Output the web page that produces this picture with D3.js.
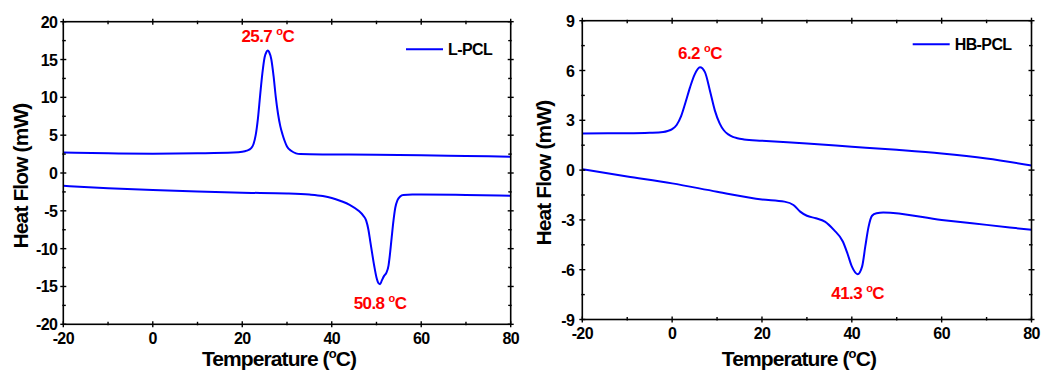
<!DOCTYPE html>
<html><head><meta charset="utf-8">
<script src="https://cdn.jsdelivr.net/npm/d3@7"></script>
<style>
body{margin:0;background:#fff;}
svg{display:block;font-family:"Liberation Sans",Arial,sans-serif;font-weight:bold;}
</style></head>
<body><svg id="c" width="1041" height="372"></svg>
<script>
// ---- Data: L-PCL (left panel) ----
const lpclCoolT = [-20,-10,0,10,18,20,21,22,22.5,23,23.5,24,24.5,25,25.4,25.7,26,26.5,27,27.5,28,28.5,29,29.5,30,31,32,33,40,50,60,70,80];
const lpclCoolHF = [2.7,2.6,2.55,2.6,2.7,2.8,2.95,3.3,3.8,5.0,7.2,10.3,13.2,15.3,16.0,16.2,16.0,15.0,12.8,10.0,7.8,6.2,5.1,4.2,3.5,2.9,2.6,2.5,2.45,2.4,2.35,2.25,2.15];
const lpclHeatT = [-20,-10,0,10,20,30,35,38,40,42,44,46,47,47.7,48.2,48.6,49,49.5,50,50.5,50.8,51.2,51.7,52.2,52.7,53,53.4,53.8,54.2,54.7,55.3,56,58,60,70,80];
const lpclHeatHF = [-1.7,-2.0,-2.25,-2.45,-2.6,-2.7,-2.85,-3.05,-3.3,-3.7,-4.2,-5.0,-5.6,-6.3,-7.5,-9.0,-10.5,-12.3,-13.8,-14.6,-14.7,-14.2,-13.6,-13.2,-12.2,-10.8,-8.5,-6.3,-4.6,-3.6,-3.1,-2.9,-2.85,-2.85,-2.9,-3.0];
// ---- Data: HB-PCL (right panel) ----
const hbCoolT = [-20,-10,-5,-2,-1,0,1,2,3,4,5,6.2,7.3,8.4,9.5,10.6,11.5,12.5,13.5,14.5,16,20,30,40,50,60,70,80];
const hbCoolHF = [2.21,2.22,2.25,2.3,2.36,2.47,2.72,3.25,4.1,5.0,5.75,6.19,5.9,4.8,3.6,2.8,2.4,2.15,2.0,1.92,1.85,1.77,1.6,1.41,1.22,1.0,0.7,0.28];
const hbHeatT = [-20,-10,0,10,20,25,27,28.5,30,32,34,36,38,39,40,41.3,42.3,43,43.7,44.5,45.5,47,60,70,80];
const hbHeatHF = [0.05,-0.38,-0.8,-1.3,-1.77,-1.9,-2.1,-2.5,-2.75,-2.9,-3.1,-3.6,-4.3,-5.0,-5.8,-6.27,-5.8,-4.6,-3.45,-2.75,-2.6,-2.55,-3.0,-3.3,-3.6];
// ---- Ticks and labels ----
const xTicks = [-20,0,20,40,60,80];
const xMinor = [-10,10,30,50,70];
const lpclYTicks = [-20,-15,-10,-5,0,5,10,15,20];
const lpclYMinor = [-17.5,-12.5,-7.5,-2.5,2.5,7.5,12.5,17.5];
const hbYTicks = [-9,-6,-3,0,3,6,9];
const hbYMinor = [-7.5,-4.5,-1.5,1.5,4.5,7.5];
const lpclLabels = [{t:25.7,hf:16.2,txt:"25.7",pos:"top"},{t:50.8,hf:-14.7,txt:"50.8",pos:"bottom"}];
const hbLabels = [{t:6.2,hf:6.19,txt:"6.2",pos:"top"},{t:41.3,hf:-6.27,txt:"41.3",pos:"bottom"}];

const svg = d3.select("#c");
const zip = (a,b)=>a.map((v,i)=>[v,b[i]]);

function panel(o){
  const g = svg.append("g");
  const x = d3.scaleLinear().domain([-20,80]).range([o.x0,o.x1]);
  const y = d3.scaleLinear().domain(o.yDom).range([o.y1,o.y0]);
  const line = d3.line().x(d=>x(d[0])).y(d=>y(d[1])).curve(d3.curveMonotoneX);
  o.series.forEach(s=>{
    g.append("path").attr("d",line(s)).attr("fill","none").attr("stroke","#0000ff").attr("stroke-width",2);
  });
  // frame
  g.append("rect").attr("x",o.x0).attr("y",o.y0).attr("width",o.x1-o.x0).attr("height",o.y1-o.y0)
    .attr("fill","none").attr("stroke","#000").attr("stroke-width",1.6);
  const tk = (x1,y1,x2,y2)=>g.append("line").attr("x1",x1).attr("y1",y1).attr("x2",x2).attr("y2",y2).attr("stroke","#000").attr("stroke-width",1.4);
  xTicks.forEach(t=>{tk(x(t),o.y1-3,x(t),o.y1+3);tk(x(t),o.y0-3,x(t),o.y0+3);});
  xMinor.forEach(t=>{tk(x(t),o.y1-2.5,x(t),o.y1+1);tk(x(t),o.y0-1,x(t),o.y0+2.5);});
  o.yTicks.forEach(t=>{tk(o.x0-3,y(t),o.x0+3,y(t));tk(o.x1-3,y(t),o.x1+3,y(t));});
  o.yMinor.forEach(t=>{tk(o.x0-1,y(t),o.x0+2.5,y(t));tk(o.x1-2.5,y(t),o.x1+1,y(t));});
  // tick labels
  const lab = g.append("g").attr("font-size",16).attr("fill","#000").attr("letter-spacing",-0.6);
  xTicks.forEach(t=>lab.append("text").attr("x",x(t)).attr("y",o.y1+19.5).attr("text-anchor","middle").text(t));
  o.yTicks.forEach(t=>lab.append("text").attr("x",o.x0-o.yLabGap).attr("y",y(t)+6).attr("text-anchor","end").text(t));
  // axis titles
  const xt = g.append("text").attr("x",(o.x0+o.x1)/2-8).attr("y",366).attr("text-anchor","middle")
    .attr("font-size",21).attr("letter-spacing",-0.9);
  xt.append("tspan").text("Temperature (");
  xt.append("tspan").attr("font-size",13).attr("dy",-8).text("o");
  xt.append("tspan").attr("dy",8).text("C)");
  g.append("text").attr("transform",`translate(${o.yTitleX},${(o.y0+o.y1)/2+3}) rotate(-90)`)
    .attr("text-anchor","middle").attr("font-size",21).attr("letter-spacing",-0.9).text("Heat Flow (mW)");
  // peak annotations
  o.labels.forEach(l=>{
    const ty = l.pos==="top" ? y(l.hf)-8 : y(l.hf)+25;
    const t = g.append("text").attr("x",x(l.t)).attr("y",ty).attr("text-anchor","middle")
      .attr("font-size",17).attr("fill","#ff0000").attr("letter-spacing",-0.6);
    t.append("tspan").text(l.txt+" ");
    t.append("tspan").attr("font-size",11).attr("dy",-7).text("o");
    t.append("tspan").attr("dy",7).text("C");
  });
  // legend
  g.append("line").attr("x1",o.legX).attr("x2",o.legX+37).attr("y1",o.legY).attr("y2",o.legY)
    .attr("stroke","#0000ff").attr("stroke-width",2);
  g.append("text").attr("x",o.legX+42).attr("y",o.legY+6).attr("font-size",16).attr("letter-spacing",-0.6).text(o.name);
}

panel({x0:63.3,x1:510.7,y0:21.7,y1:324.3,yDom:[-20,20],yTicks:lpclYTicks,yMinor:lpclYMinor,
  series:[zip(lpclCoolT,lpclCoolHF),zip(lpclHeatT,lpclHeatHF)],labels:lpclLabels,
  yLabGap:6,yTitleX:28,legX:406,legY:49.3,name:"L-PCL"});
panel({x0:582.3,x1:1031.5,y0:20.7,y1:319.5,yDom:[-9,9],yTicks:hbYTicks,yMinor:hbYMinor,
  series:[zip(hbCoolT,hbCoolHF),zip(hbHeatT,hbHeatHF)],labels:hbLabels,
  yLabGap:8,yTitleX:551,legX:912.7,legY:44.3,name:"HB-PCL"});
</script></body></html>
